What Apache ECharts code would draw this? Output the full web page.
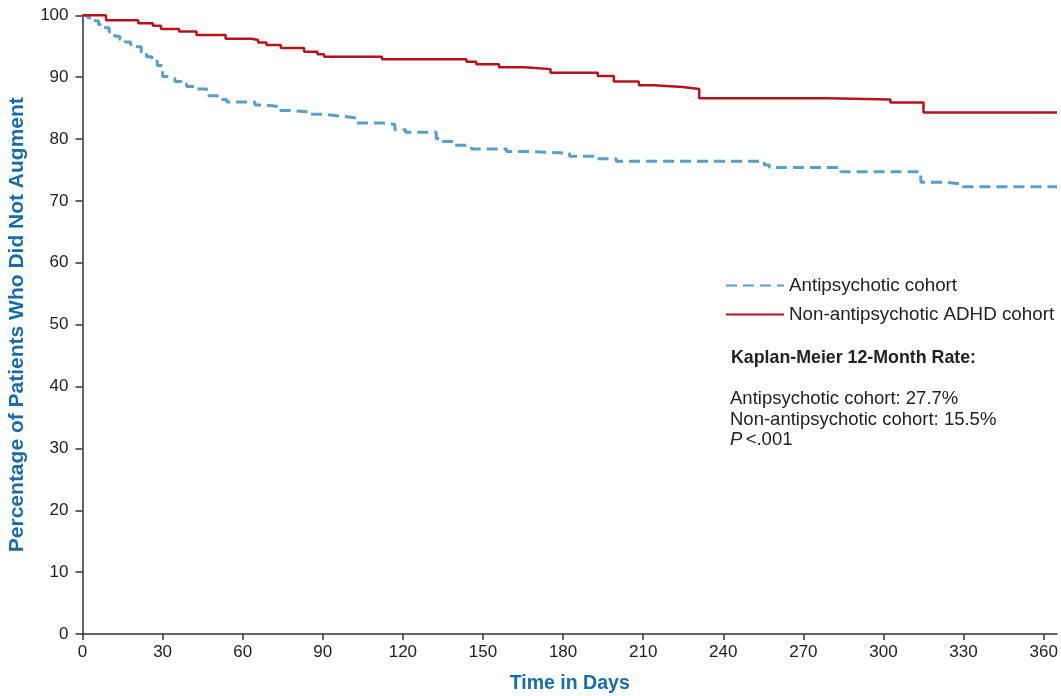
<!DOCTYPE html>
<html>
<head>
<meta charset="utf-8">
<script src="https://cdn.jsdelivr.net/npm/echarts@6/dist/echarts.min.js"></script>
<style>
html,body{margin:0;padding:0;background:#fff;}
#chart{width:1061px;height:696px;}
</style>
</head>
<body>
<div id="chart"></div>
<script>
// Series names
const seriesNames = ['Antipsychotic cohort', 'Non-antipsychotic ADHD cohort'];
// Tick values
const xTicks = [0, 30, 60, 90, 120, 150, 180, 210, 240, 270, 300, 330, 360];
const yTicks = [0, 10, 20, 30, 40, 50, 60, 70, 80, 90, 100];
// Kaplan-Meier points: [day, percentage not augmented after that day]
const antipsychotic = [
  [0,100],[2,99.6],[4,99.1],[6,98.5],[8,98.0],[10,97.3],[12,96.6],[14,96.1],[16,95.7],[18,95.3],
  [20,94.9],[22,94.0],[24,93.3],[26,92.6],[28,91.9],[30,90.1],[32,89.8],[34.6,89.3],[37,88.9],[39,88.5],
  [42.7,88.1],[46.5,87.0],[49.6,86.9],[52,86.4],[54,86.0],[64.6,85.5],[68.3,85.3],[72.7,84.6],[78.3,84.4],
  [84.5,84.0],[90,83.7],[97,83.4],[102.6,82.6],[114.4,82.3],[117,81.5],[121,81.1],[132.5,80.1],[135,79.6],
  [139.4,79.0],[143.8,78.8],[145.7,78.4],[158.8,78.0],[166.2,77.7],[182.4,77.2],[192.4,76.8],[199.9,76.4],
  [255.4,75.8],[257.3,75.4],[284.1,74.7],[314,73.0],[323.4,72.7],[329.6,72.3],[365,72.3]
];
const nonAntipsychotic = [
  [0,100],[8.8,99.2],[20.9,98.7],[26.4,98.3],[29.4,97.8],[36.2,97.4],[42.7,96.8],[53.6,96.2],[63.3,96.0],
  [65.8,95.6],[68.9,95.2],[74.3,94.7],[83,94.1],[88,93.7],[90.5,93.3],[112.2,92.9],[143.8,92.5],[147.5,92.1],
  [156,91.6],[165.6,91.3],[175.3,90.7],[193,90.2],[199,89.3],[208.4,88.7],[213.9,88.4],[224.8,88.1],
  [231,86.6],[279,86.4],[302.6,85.9],[315,84.3],[365,84.3]
];
// Annotation texts
const noteTitle = 'Kaplan-Meier 12-Month Rate:';
const noteLines = ['Antipsychotic cohort: 27.7%', 'Non-antipsychotic cohort: 15.5%'];
const pText = '<.001';

const FONT = 'Liberation Sans';
const chart = echarts.init(document.getElementById('chart'));
chart.setOption({
  animation: false,
  backgroundColor: '#fff',
  textStyle: { fontFamily: FONT },
  grid: { left: 82.5, right: 4, top: 15.3, bottom: 62, containLabel: false, outerBoundsMode: 'none' },
  legend: {
    orient: 'vertical', left: 720, top: 271, itemWidth: 58, itemHeight: 14, itemGap: 10,
    itemStyle: { opacity: 0 },
    textStyle: { fontSize: 18.8, color: '#222', fontFamily: FONT },
    data: seriesNames
  },
  xAxis: {
    type: 'value', min: 0, max: 365,
    name: 'Time in Days', nameLocation: 'middle', nameGap: 40,
    nameTextStyle: { fontSize: 19.5, fontWeight: 'bold', color: '#1a6ca8', fontFamily: FONT },
    axisLine: { show: true, onZero: false, lineStyle: { color: '#333', width: 1.5 } },
    axisTick: { show: true, length: 6, lineStyle: { color: '#333', width: 1.5 }, customValues: xTicks },
    axisLabel: { fontSize: 17, color: '#222', margin: 10, customValues: xTicks, fontFamily: FONT },
    splitLine: { show: false }
  },
  yAxis: {
    type: 'value', min: 0, max: 100, interval: 10,
    name: 'Percentage of Patients Who Did Not Augment', nameLocation: 'middle', nameGap: 55, nameRotate: 90,
    nameTextStyle: { fontSize: 21, fontWeight: 'bold', color: '#1a6ca8', fontFamily: FONT },
    axisLine: { show: true, onZero: false, lineStyle: { color: '#333', width: 1.5 } },
    axisTick: { show: true, length: 7, lineStyle: { color: '#333', width: 1.5 }, customValues: yTicks },
    axisLabel: { fontSize: 17, color: '#222', margin: 14, customValues: yTicks, fontFamily: FONT },
    splitLine: { show: false }
  },
  series: [
    {
      name: seriesNames[0], type: 'line', step: 'end', data: antipsychotic,
      showSymbol: false, symbol: 'none', z: 2,
      itemStyle: { color: '#5a9fc9' },
      lineStyle: { color: '#5a9fc9', width: 3, type: [11, 6] }
    },
    {
      name: seriesNames[1], type: 'line', step: 'end', data: nonAntipsychotic,
      showSymbol: false, symbol: 'none', z: 3,
      itemStyle: { color: '#b3141e' },
      lineStyle: { color: '#b3141e', width: 2.5 }
    }
  ],
  graphic: [
    { type: 'text', left: 731, top: 349, style: { text: noteTitle, fontFamily: FONT, fontSize: 17.8, fontWeight: 'bold', fill: '#222' } },
    { type: 'text', left: 730, top: 388, style: { text: noteLines.join('\n'), fontFamily: FONT, fontSize: 18.5, fill: '#222', lineHeight: 21.5 } },
    { type: 'text', left: 730, top: 430.5, style: {
        text: '{i|P} {n|' + pText + '}',
        rich: { i: { fontFamily: FONT, fontSize: 18.5, fontStyle: 'italic', fill: '#222' }, n: { fontFamily: FONT, fontSize: 18.5, fill: '#222' } }
    } }
  ]
});
</script>
</body>
</html>
